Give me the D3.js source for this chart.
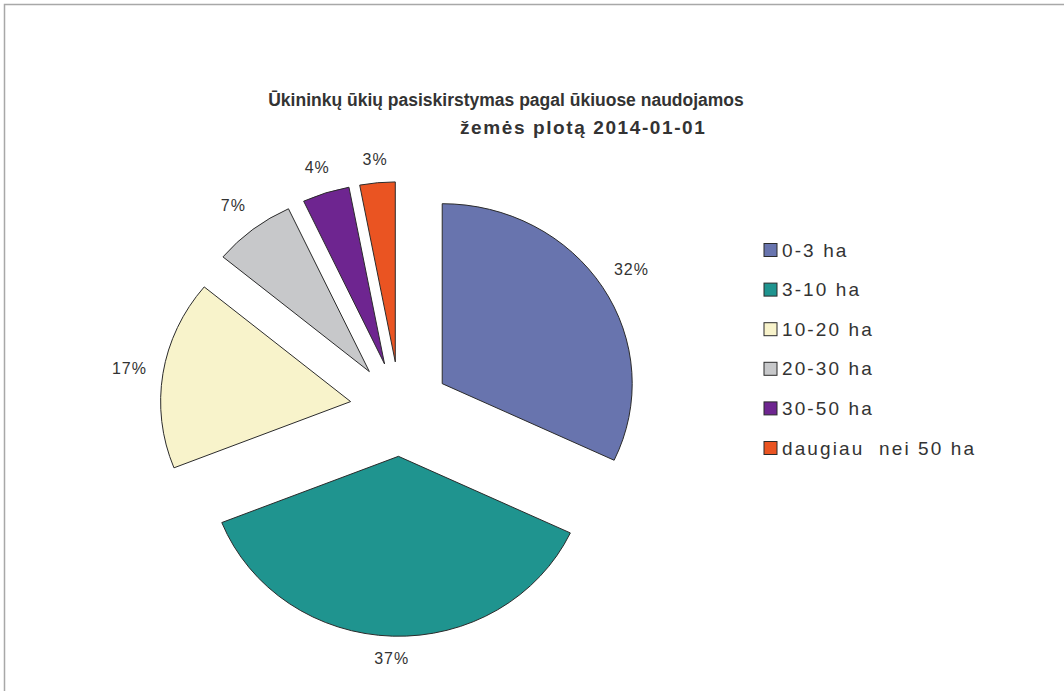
<!DOCTYPE html>
<html>
<head>
<meta charset="utf-8">
<script src="https://cdn.jsdelivr.net/npm/d3@7"></script>
<style>
  body { margin: 0; background: #fff; }
  text { font-family: "Liberation Sans", Arial, sans-serif; fill: #333; }
</style>
</head>
<body>
<svg id="chart"></svg>
<script>
// data
const categories = ['0-3 ha', '3-10 ha', '10-20 ha', '20-30 ha', '30-50 ha', 'daugiau  nei 50 ha'];
const shares = [32, 37, 17, 7, 4, 3];
const titleLines = ['Ūkininkų ūkių pasiskirstymas pagal ūkiuose naudojamos', 'žemės plotą 2014-01-01'];

const palette = ['#6874ae', '#1f948f', '#f8f3cb', '#c7c8ca', '#6e2590', '#ea5422'];

let width = 1064;
let height = 691;

let cx = 400, cy = 409;
let radius = 190;
let squash = 0.947;     // chart is a bit wider than tall
let explode = 50;
let labelBase = 256;

let svg = d3.select('#chart').attr('width', width).attr('height', height);

// frame lines (top + left)
svg.append('path')
  .attr('d', `M${width},4.5 H4.5 V${height}`)
  .attr('fill', 'none')
  .attr('stroke', '#a8a8a8')
  .attr('stroke-width', 1.5);

// title
svg.append('text')
  .attr('x', 506).attr('y', 106)
  .attr('text-anchor', 'middle')
  .style('font-size', '17.5px').style('font-weight', 'bold')
  .text(titleLines[0]);
svg.append('text')
  .attr('x', 460).attr('y', 134)
  .attr('text-anchor', 'start')
  .style('font-size', '19px').style('font-weight', 'bold').style('letter-spacing', '1.6px')
  .text(titleLines[1]);

let color = d3.scaleOrdinal().domain(categories).range(palette);

let pie = d3.pie().sort(null).value((d) => d.value);
let arcs = pie(categories.map((c, i) => ({ name: c, value: shares[i] })));

let arc = d3.arc().innerRadius(0).outerRadius(radius);
let mid = (d) => (d.startAngle + d.endAngle) / 2;

let pieG = svg.append('g')
  .attr('transform', `translate(${cx},${cy}) scale(1,${squash})`);

pieG.selectAll('.slice')
  .data(arcs)
  .enter()
  .append('path')
  .attr('class', 'slice')
  .attr('d', arc)
  .attr('transform', (d) => `translate(${Math.sin(mid(d)) * explode},${-Math.cos(mid(d)) * explode})`)
  .attr('fill', (d) => color(d.data.name))
  .attr('stroke', '#2b2b2b')
  .attr('stroke-width', 1)
  .attr('vector-effect', 'non-scaling-stroke');

// label sits outside the slice, pushed out by half its box
let labelDist = (d) => labelBase + Math.abs(Math.sin(mid(d))) * 17 + Math.abs(Math.cos(mid(d))) * 7;

svg.selectAll('.pct')
  .data(arcs)
  .enter()
  .append('text')
  .attr('class', 'pct')
  .attr('x', (d) => cx + Math.sin(mid(d)) * labelDist(d))
  .attr('y', (d) => cy - Math.cos(mid(d)) * labelDist(d) * squash)
  .attr('text-anchor', 'middle')
  .attr('dominant-baseline', 'central')
  .style('font-size', '16px')
  .style('letter-spacing', '1px')
  .text((d) => d.data.value + '%');

// legend
let legendY = d3.scalePoint().domain(categories).range([250, 448]);

let legend = svg.selectAll('.legend')
  .data(categories)
  .enter()
  .append('g')
  .attr('class', 'legend')
  .attr('transform', (d) => `translate(764,${legendY(d)})`);

legend.append('rect')
  .attr('x', 0).attr('y', -6.5)
  .attr('width', 13).attr('height', 13)
  .attr('fill', (d) => color(d))
  .attr('stroke', '#2b2b2b')
  .attr('stroke-width', 1);

legend.append('text')
  .attr('x', 18).attr('y', 0)
  .attr('dominant-baseline', 'central')
  .style('font-size', '19px')
  .style('letter-spacing', '2.1px')
  .style('white-space', 'pre')
  .text((d) => d);
</script>
</body>
</html>
